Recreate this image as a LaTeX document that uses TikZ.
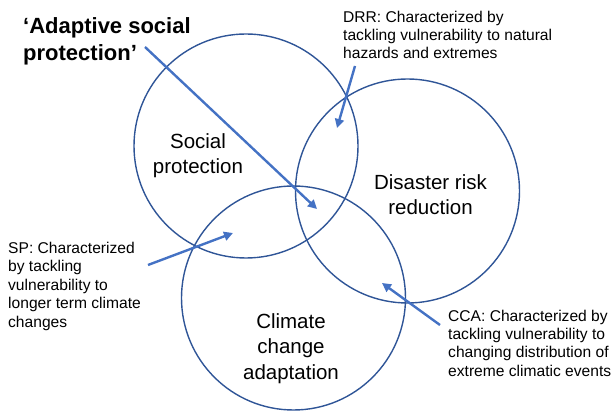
\documentclass[tikz,border=0pt]{standalone}
\usepackage{fontspec}
\setmainfont{Liberation Sans}
\usetikzlibrary{arrows.meta}
\definecolor{circblue}{HTML}{2F5597}
\definecolor{arrblue}{HTML}{4472C4}
\begin{document}
\begin{tikzpicture}[x=1pt,y=-1pt,
  venn/.style={draw=circblue,line width=1.4pt,circle,minimum size=224pt,inner sep=0pt},
  biglabel/.style={font=\fontsize{20.5}{25.5}\selectfont,align=center,anchor=north,inner sep=0pt},
  note/.style={font=\fontsize{15.6}{18.4}\selectfont,align=left,anchor=north west,inner sep=0pt},
  pointer/.style={draw=arrblue,line width=2.4pt,-{Triangle[length=9pt,width=9pt]}}]
\useasboundingbox (0,0) rectangle (614,411);
% circles
\node[venn] (sp) at (246,146) {};
\node[venn] (drr) at (407.5,191) {};
\node[venn] (cca) at (293.5,298) {};
% circle labels
\node[biglabel] (splab) at (198,133) {Social\\protection};
\node[biglabel] (drrlab) at (430.5,174) {Disaster risk\\reduction};
\node[biglabel] (ccalab) at (291,313) {Climate\\change\\adaptation};
% notes
\node[font=\bfseries\fontsize{22}{27}\selectfont,align=left,anchor=north west,inner sep=0pt] (asp) at (23,17) {‘Adaptive social\\protection’};
\node[note,font=\fontsize{15.6}{18}\selectfont] (drrnote) at (343,10.6) {DRR: Characterized by\\tackling vulnerability to natural\\hazards and extremes};
\node[note,font=\fontsize{15.6}{18.5}\selectfont] (spnote) at (8,241.6) {SP: Characterized\\by tackling\\vulnerability to\\longer term climate\\changes};
\node[note] (ccanote) at (448,309.6) {CCA: Characterized by\\tackling vulnerability to\\changing distribution of\\extreme climatic events};
% arrow ends
\coordinate (aspS) at (145,47);
\coordinate (aspE) at (317,209);
\coordinate (drrS) at (355,66);
\coordinate (drrE) at (337,128);
\coordinate (spS) at (148,265);
\coordinate (spE) at (233,233);
\coordinate (ccaS) at (440,325);
\coordinate (ccaE) at (382,283);
\draw[pointer] (aspS) -- (aspE);
\draw[pointer] (drrS) -- (drrE);
\draw[pointer] (spS) -- (spE);
\draw[pointer] (ccaS) -- (ccaE);
\end{tikzpicture}
\end{document}
